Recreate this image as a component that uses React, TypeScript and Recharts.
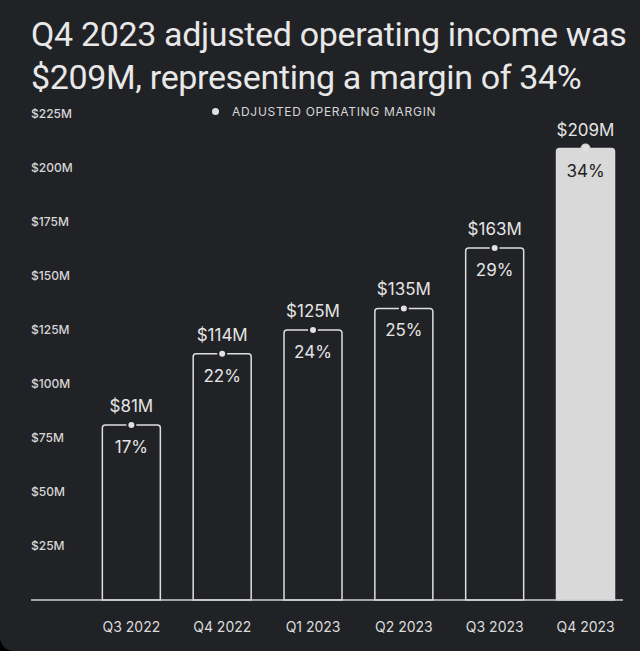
import { BarChart, Bar, XAxis, YAxis, LabelList, Cell } from 'recharts';

const quarters = ['Q3 2022', 'Q4 2022', 'Q1 2023', 'Q2 2023', 'Q3 2023', 'Q4 2023'];
const incomeM = [81, 114, 125, 135, 163, 209];
const marginPct = [17, 22, 24, 25, 29, 34];
const yTicks = [25, 50, 75, 100, 125, 150, 175, 200, 225];

const BG = '#212226';
const FG = '#e4e4e4';
const FONT = 'Inter, "Noto Sans", sans-serif';

const data = quarters.map((q, i) => ({ q, income: incomeM[i], margin: marginPct[i] }));

// y labels sit inside the plot, left-aligned at the card's edge
const YTick = (props: any) => {
  const { y, payload } = props;
  return (
    <text x={31} y={y} dy={4} fontSize={12} fontWeight={500} fill="#d6d6d6" fontFamily={FONT}>
      ${payload.value}M
    </text>
  );
};

const BarLabel = (props: any) => {
  const { x, y, width, index, value } = props;
  const cx = x + width / 2;
  const last = index === incomeM.length - 1;
  return (
    <g>
      <text x={cx} y={y - 19} textAnchor="middle" dominantBaseline="central" fontSize={17} fill={FG} fontFamily={FONT}>
        ${value}M
      </text>
      <circle cx={cx} cy={y} r={4} fill="#e0e0e0" stroke={last ? '#d9d9d9' : BG} strokeWidth={2} />
      <text x={cx} y={y + 22} textAnchor="middle" dominantBaseline="central" fontSize={17} fill={last ? '#222' : FG} fontFamily={FONT}>
        {marginPct[index]}%
      </text>
    </g>
  );
};

export default function App() {
  return (
    <div style={{ position: 'fixed', left: 0, top: 0, width: 640, height: 651, background: '#000' }}>
      <div style={{ position: 'absolute', inset: 0, background: BG, borderBottomLeftRadius: 14 }}>
        <div
          style={{
            position: 'absolute',
            left: 31,
            top: 13,
            fontFamily: 'Roboto, sans-serif',
            fontSize: 34,
            lineHeight: '43px',
            color: '#e8e8e8',
            letterSpacing: -0.35,
            whiteSpace: 'nowrap',
          }}
        >
          Q4 2023 adjusted operating income was
          <br />
          $209M, representing a margin of 34%
        </div>
        <div
          style={{
            position: 'absolute',
            left: 212,
            top: 104,
            fontFamily: FONT,
            fontSize: 12,
            color: '#d6d6d6',
            display: 'flex',
            alignItems: 'center',
            letterSpacing: 0.7,
          }}
        >
          <span style={{ width: 7, height: 7, borderRadius: 4, background: '#e0e0e0', display: 'inline-block', marginRight: 13 }} />
          ADJUSTED OPERATING MARGIN
        </div>
        <BarChart
          width={640}
          height={651}
          data={data}
          margin={{ top: 114, right: 17, bottom: 20, left: 30 }}
          barCategoryGap="18%"
          style={{ position: 'absolute', left: 0, top: 0 }}
        >
          <XAxis
            dataKey="q"
            height={31}
            padding={{ left: 55, right: -8 }}
            axisLine={{ stroke: '#cfcfcf', strokeWidth: 1.5 }}
            tickLine={false}
            tickSize={0}
            tickMargin={22}
            tick={{ fontSize: 14, fill: '#dcdcdc', fontFamily: FONT }}
          />
          <YAxis
            width={1}
            domain={[0, 225]}
            ticks={yTicks}
            interval={0}
            axisLine={false}
            tickLine={false}
            tick={<YTick />}
          />
          <Bar
            dataKey="income"
            fill={BG}
            stroke="#dedede"
            strokeWidth={1.5}
            radius={[3, 3, 0, 0]}
            isAnimationActive={false}
          >
            {data.map((d, i) => (
              <Cell key={d.q} fill={i === data.length - 1 ? '#d9d9d9' : BG} stroke={i === data.length - 1 ? '#d9d9d9' : '#dedede'} />
            ))}
            <LabelList dataKey="income" content={<BarLabel />} />
          </Bar>
        </BarChart>
      </div>
    </div>
  );
}
